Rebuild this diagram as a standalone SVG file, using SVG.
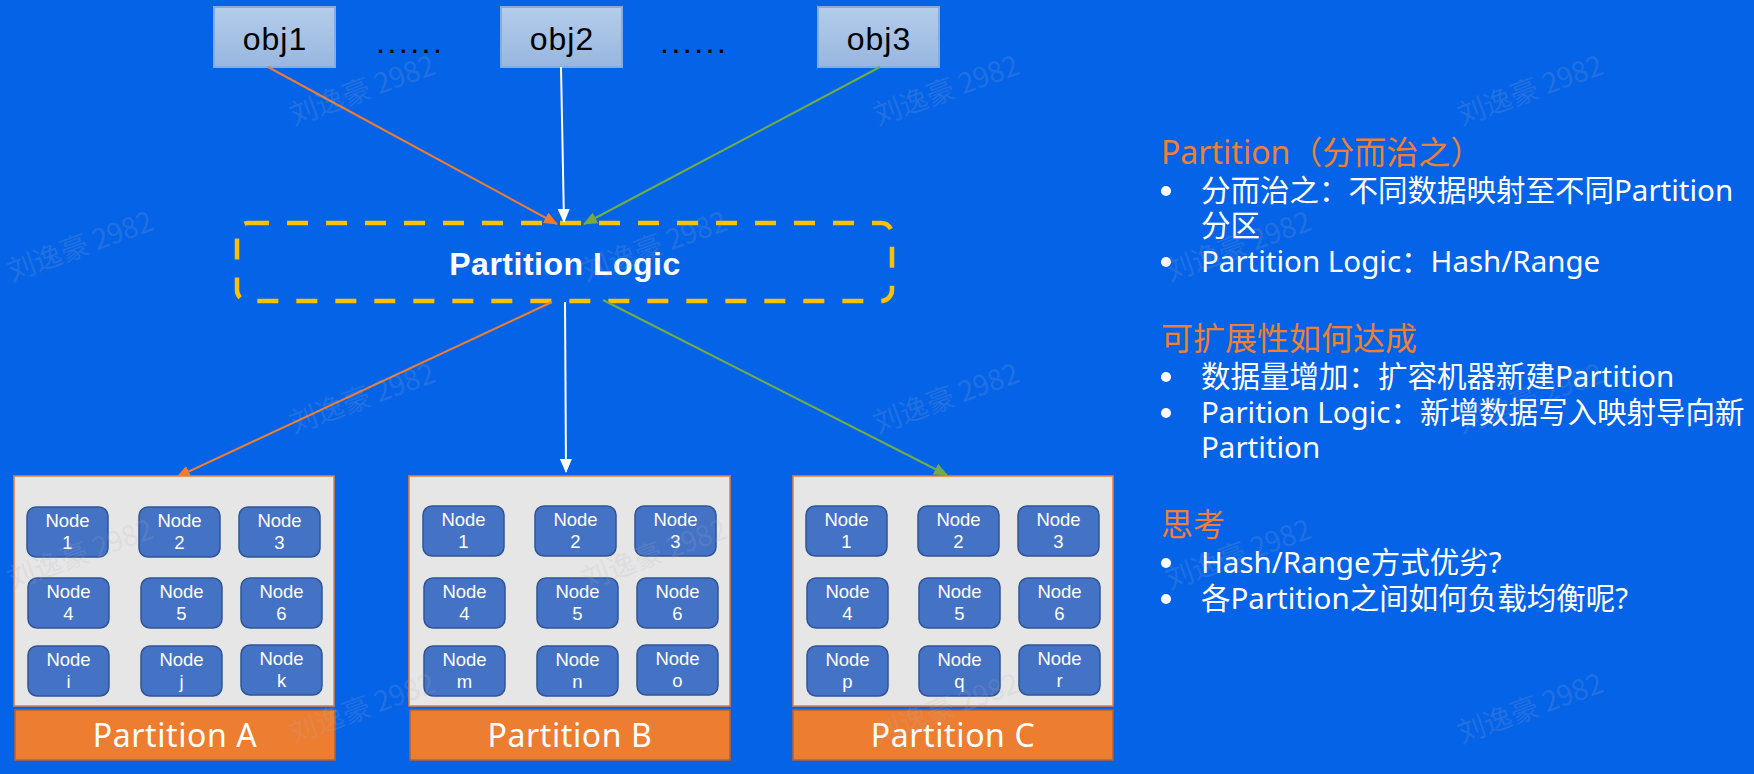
<svg xmlns="http://www.w3.org/2000/svg" width="1754" height="774" viewBox="0 0 1754 774">
  <defs>
    <linearGradient id="objGrad" x1="0" y1="0" x2="0" y2="1">
      <stop offset="0" stop-color="#b3cdea"/>
      <stop offset="1" stop-color="#98b6df"/>
    </linearGradient>
    <marker id="arrOrange" markerUnits="userSpaceOnUse" markerWidth="14" markerHeight="12" refX="13" refY="6" orient="auto">
      <path d="M0,0 L14,6 L0,12 z" fill="#ed7d31"/>
    </marker>
    <marker id="arrWhite" markerUnits="userSpaceOnUse" markerWidth="14" markerHeight="12" refX="13" refY="6" orient="auto">
      <path d="M0,0 L14,6 L0,12 z" fill="#ffffff"/>
    </marker>
    <marker id="arrGreen" markerUnits="userSpaceOnUse" markerWidth="14" markerHeight="12" refX="13" refY="6" orient="auto">
      <path d="M0,0 L14,6 L0,12 z" fill="#70ad47"/>
    </marker>
  </defs>
  <style>
    .obj { fill: url(#objGrad); stroke: #85abdf; stroke-width: 2; }
    .objt { font-family: "Liberation Sans", Arial, sans-serif; font-size: 32px; fill: #000; text-anchor: middle; letter-spacing: 1px; }
    .dots { font-family: "Liberation Sans", Arial, sans-serif; font-size: 32px; fill: #000; letter-spacing: 2.5px; }
    .logic { fill: none; stroke: #ffc000; stroke-width: 4.5; stroke-dasharray: 21 18; }
    .logict { font-family: "Liberation Sans", Arial, sans-serif; font-size: 32px; font-weight: bold; fill: #fff; text-anchor: middle; letter-spacing: 0.5px; }
    .cont { fill: #e7e6e6; stroke: #ed7d31; stroke-width: 1.5; }
    .bar { fill: #ed7d31; stroke: #b9612b; stroke-width: 1.5; }
    .bart { font-family: "Noto Sans", "Liberation Sans", sans-serif; font-size: 32px; fill: #fff; text-anchor: middle; letter-spacing: 0.6px; }
    .node { fill: #4472c4; stroke: #2f5597; stroke-width: 1.5; }
    .nodet { font-family: "Liberation Sans", Arial, sans-serif; font-size: 18.5px; fill: #fff; text-anchor: middle; }
    .c { fill: none; stroke-width: 2; }
    .co { stroke: #ed7d31; marker-end: url(#arrOrange); }
    .cw { stroke: #ffffff; marker-end: url(#arrWhite); }
    .cg { stroke: #70ad47; marker-end: url(#arrGreen); }
    .title { font-family: "Noto Sans", "Noto Sans CJK SC", sans-serif; font-size: 32px; fill: #ee7f33; }
    .body { font-family: "Noto Sans", "Noto Sans CJK SC", sans-serif; font-size: 29.5px; fill: #fff; }
    .bul { fill: #fff; }
    .wm { font-family: "Noto Sans CJK SC", "Noto Sans", sans-serif; font-size: 28px; fill: #b0b4c0; opacity: 0.16; text-anchor: middle; }
  </style>

  <rect x="0" y="0" width="1754" height="774" fill="#0563e8"/>

  <!-- objects -->
  <g id="obj1">
    <rect class="obj" x="214" y="7" width="121" height="60"/>
    <text class="objt" x="275" y="50">obj1</text>
  </g>
  <g id="dots1">
    <text class="dots" x="376" y="53">......</text>
  </g>
  <g id="obj2">
    <rect class="obj" x="501" y="7" width="121" height="60"/>
    <text class="objt" x="562" y="50">obj2</text>
  </g>
  <g id="dots2">
    <text class="dots" x="660" y="53">......</text>
  </g>
  <g id="obj3">
    <rect class="obj" x="818" y="7" width="121" height="60"/>
    <text class="objt" x="879" y="50">obj3</text>
  </g>

  <!-- partition logic -->
  <g id="partition-logic">
    <rect class="logic" x="237" y="223" width="655" height="78" rx="11"/>
    <text class="logict" x="565" y="275">Partition Logic</text>
  </g>

  <!-- connectors -->
  <g id="connectors">
    <line class="c co" x1="268" y1="67" x2="557" y2="224"/>
    <line class="c cw" x1="561" y1="67" x2="564" y2="222"/>
    <line class="c cg" x1="880" y1="67" x2="584" y2="224"/>
    <line class="c co" x1="552" y1="302" x2="177" y2="477"/>
    <line class="c cw" x1="565" y1="302" x2="566" y2="472"/>
    <line class="c cg" x1="603" y1="300" x2="947" y2="475"/>
  </g>

  <!-- Partition A -->
  <g id="partition-a">
    <rect class="cont" x="14" y="476" width="320" height="230"/>
    <g id="a-node1"><rect class="node" x="27" y="507" width="81" height="50" rx="9"/><text class="nodet" x="67.5" y="527">Node</text><text class="nodet" x="67.5" y="549">1</text></g>
    <g id="a-node2"><rect class="node" x="139" y="507" width="81" height="50" rx="9"/><text class="nodet" x="179.5" y="527">Node</text><text class="nodet" x="179.5" y="549">2</text></g>
    <g id="a-node3"><rect class="node" x="239" y="507" width="81" height="50" rx="9"/><text class="nodet" x="279.5" y="527">Node</text><text class="nodet" x="279.5" y="549">3</text></g>
    <g id="a-node4"><rect class="node" x="28" y="578" width="81" height="50" rx="9"/><text class="nodet" x="68.5" y="598">Node</text><text class="nodet" x="68.5" y="620">4</text></g>
    <g id="a-node5"><rect class="node" x="141" y="578" width="81" height="50" rx="9"/><text class="nodet" x="181.5" y="598">Node</text><text class="nodet" x="181.5" y="620">5</text></g>
    <g id="a-node6"><rect class="node" x="241" y="578" width="81" height="50" rx="9"/><text class="nodet" x="281.5" y="598">Node</text><text class="nodet" x="281.5" y="620">6</text></g>
    <g id="a-nodei"><rect class="node" x="28" y="646" width="81" height="50" rx="9"/><text class="nodet" x="68.5" y="666">Node</text><text class="nodet" x="68.5" y="688">i</text></g>
    <g id="a-nodej"><rect class="node" x="141" y="646" width="81" height="50" rx="9"/><text class="nodet" x="181.5" y="666">Node</text><text class="nodet" x="181.5" y="688">j</text></g>
    <g id="a-nodek"><rect class="node" x="241" y="645" width="81" height="50" rx="9"/><text class="nodet" x="281.5" y="665">Node</text><text class="nodet" x="281.5" y="687">k</text></g>
    <rect class="bar" x="15" y="710" width="320" height="50"/>
    <text class="bart" x="175" y="747">Partition A</text>
  </g>

  <!-- Partition B -->
  <g id="partition-b">
    <rect class="cont" x="409" y="476" width="321" height="230"/>
    <g id="b-node1"><rect class="node" x="423" y="506" width="81" height="50" rx="9"/><text class="nodet" x="463.5" y="526">Node</text><text class="nodet" x="463.5" y="548">1</text></g>
    <g id="b-node2"><rect class="node" x="535" y="506" width="81" height="50" rx="9"/><text class="nodet" x="575.5" y="526">Node</text><text class="nodet" x="575.5" y="548">2</text></g>
    <g id="b-node3"><rect class="node" x="635" y="506" width="81" height="50" rx="9"/><text class="nodet" x="675.5" y="526">Node</text><text class="nodet" x="675.5" y="548">3</text></g>
    <g id="b-node4"><rect class="node" x="424" y="578" width="81" height="50" rx="9"/><text class="nodet" x="464.5" y="598">Node</text><text class="nodet" x="464.5" y="620">4</text></g>
    <g id="b-node5"><rect class="node" x="537" y="578" width="81" height="50" rx="9"/><text class="nodet" x="577.5" y="598">Node</text><text class="nodet" x="577.5" y="620">5</text></g>
    <g id="b-node6"><rect class="node" x="637" y="578" width="81" height="50" rx="9"/><text class="nodet" x="677.5" y="598">Node</text><text class="nodet" x="677.5" y="620">6</text></g>
    <g id="b-nodem"><rect class="node" x="424" y="646" width="81" height="50" rx="9"/><text class="nodet" x="464.5" y="666">Node</text><text class="nodet" x="464.5" y="688">m</text></g>
    <g id="b-noden"><rect class="node" x="537" y="646" width="81" height="50" rx="9"/><text class="nodet" x="577.5" y="666">Node</text><text class="nodet" x="577.5" y="688">n</text></g>
    <g id="b-nodeo"><rect class="node" x="637" y="645" width="81" height="50" rx="9"/><text class="nodet" x="677.5" y="665">Node</text><text class="nodet" x="677.5" y="687">o</text></g>
    <rect class="bar" x="410" y="710" width="320" height="50"/>
    <text class="bart" x="570" y="747">Partition B</text>
  </g>

  <!-- Partition C -->
  <g id="partition-c">
    <rect class="cont" x="793" y="476" width="320" height="230"/>
    <g id="c-node1"><rect class="node" x="806" y="506" width="81" height="50" rx="9"/><text class="nodet" x="846.5" y="526">Node</text><text class="nodet" x="846.5" y="548">1</text></g>
    <g id="c-node2"><rect class="node" x="918" y="506" width="81" height="50" rx="9"/><text class="nodet" x="958.5" y="526">Node</text><text class="nodet" x="958.5" y="548">2</text></g>
    <g id="c-node3"><rect class="node" x="1018" y="506" width="81" height="50" rx="9"/><text class="nodet" x="1058.5" y="526">Node</text><text class="nodet" x="1058.5" y="548">3</text></g>
    <g id="c-node4"><rect class="node" x="807" y="578" width="81" height="50" rx="9"/><text class="nodet" x="847.5" y="598">Node</text><text class="nodet" x="847.5" y="620">4</text></g>
    <g id="c-node5"><rect class="node" x="919" y="578" width="81" height="50" rx="9"/><text class="nodet" x="959.5" y="598">Node</text><text class="nodet" x="959.5" y="620">5</text></g>
    <g id="c-node6"><rect class="node" x="1019" y="578" width="81" height="50" rx="9"/><text class="nodet" x="1059.5" y="598">Node</text><text class="nodet" x="1059.5" y="620">6</text></g>
    <g id="c-nodep"><rect class="node" x="807" y="646" width="81" height="50" rx="9"/><text class="nodet" x="847.5" y="666">Node</text><text class="nodet" x="847.5" y="688">p</text></g>
    <g id="c-nodeq"><rect class="node" x="919" y="646" width="81" height="50" rx="9"/><text class="nodet" x="959.5" y="666">Node</text><text class="nodet" x="959.5" y="688">q</text></g>
    <g id="c-noder"><rect class="node" x="1019" y="645" width="81" height="50" rx="9"/><text class="nodet" x="1059.5" y="665">Node</text><text class="nodet" x="1059.5" y="687">r</text></g>
    <rect class="bar" x="793" y="710" width="320" height="50"/>
    <text class="bart" x="953" y="747">Partition C</text>
  </g>

  <!-- notes on the right -->
  <g id="notes">
    <text class="title" x="1161" y="164">Partition（分而治之）</text>
    <circle class="bul" cx="1166" cy="191" r="5"/>
    <text class="body" x="1201" y="201">分而治之：不同数据映射至不同Partition</text>
    <text class="body" x="1201" y="236">分区</text>
    <circle class="bul" cx="1166" cy="262" r="5"/>
    <text class="body" x="1201" y="272">Partition Logic：Hash/Range</text>

    <text class="title" x="1161" y="350">可扩展性如何达成</text>
    <circle class="bul" cx="1166" cy="377" r="5"/>
    <text class="body" x="1201" y="387">数据量增加：扩容机器新建Partition</text>
    <circle class="bul" cx="1166" cy="413" r="5"/>
    <text class="body" x="1201" y="423">Parition Logic：新增数据写入映射导向新</text>
    <text class="body" x="1201" y="458">Partition</text>

    <text class="title" x="1161" y="536">思考</text>
    <circle class="bul" cx="1166" cy="563" r="5"/>
    <text class="body" x="1201" y="573">Hash/Range方式优劣?</text>
    <circle class="bul" cx="1166" cy="599" r="5"/>
    <text class="body" x="1201" y="609">各Partition之间如何负载均衡呢?</text>
  </g>

  <!-- watermarks -->
  <g id="watermarks">
    <text class="wm" x="362" y="100" transform="rotate(-20 362 90)">刘逸豪 2982</text>
    <text class="wm" x="946" y="100" transform="rotate(-20 946 90)">刘逸豪 2982</text>
    <text class="wm" x="1530" y="100" transform="rotate(-20 1530 90)">刘逸豪 2982</text>
    <text class="wm" x="80" y="256" transform="rotate(-20 80 246)">刘逸豪 2982</text>
    <text class="wm" x="654" y="256" transform="rotate(-20 654 246)">刘逸豪 2982</text>
    <text class="wm" x="1238" y="256" transform="rotate(-20 1238 246)">刘逸豪 2982</text>
    <text class="wm" x="362" y="408" transform="rotate(-20 362 398)">刘逸豪 2982</text>
    <text class="wm" x="946" y="408" transform="rotate(-20 946 398)">刘逸豪 2982</text>
    <text class="wm" x="1530" y="408" transform="rotate(-20 1530 398)">刘逸豪 2982</text>
    <text class="wm" x="80" y="564" transform="rotate(-20 80 554)">刘逸豪 2982</text>
    <text class="wm" x="654" y="564" transform="rotate(-20 654 554)">刘逸豪 2982</text>
    <text class="wm" x="1238" y="564" transform="rotate(-20 1238 554)">刘逸豪 2982</text>
    <text class="wm" x="362" y="718" transform="rotate(-20 362 708)">刘逸豪 2982</text>
    <text class="wm" x="946" y="718" transform="rotate(-20 946 708)">刘逸豪 2982</text>
    <text class="wm" x="1530" y="718" transform="rotate(-20 1530 708)">刘逸豪 2982</text>
  </g>
</svg>
